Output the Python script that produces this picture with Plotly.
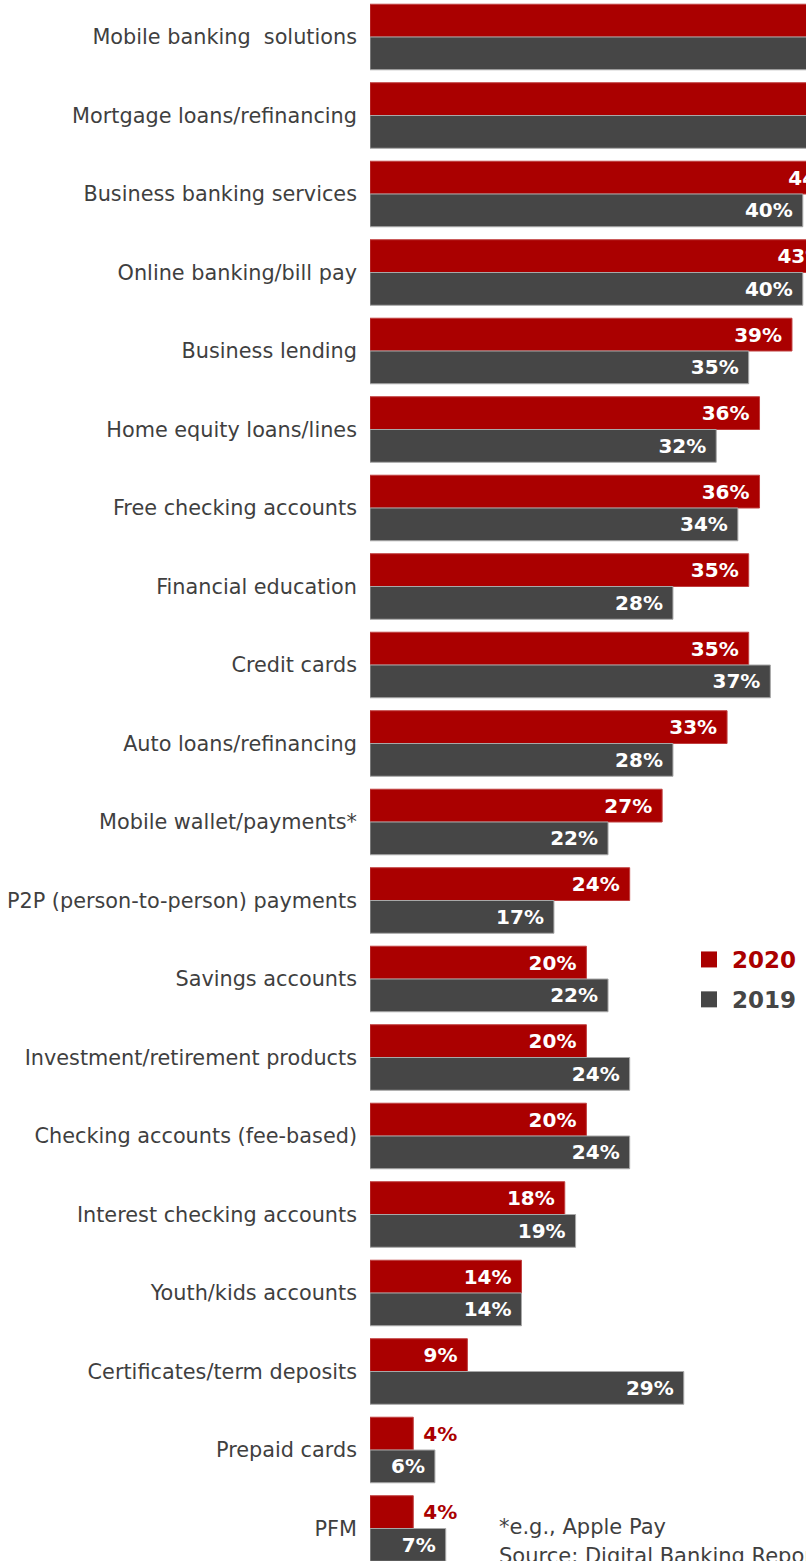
import plotly.graph_objects as go

categories = [
    "Mobile banking  solutions", "Mortgage loans/refinancing", "Business banking services",
    "Online banking/bill pay", "Business lending", "Home equity loans/lines",
    "Free checking accounts", "Financial education", "Credit cards",
    "Auto loans/refinancing", "Mobile wallet/payments*", "P2P (person-to-person) payments",
    "Savings accounts", "Investment/retirement products", "Checking accounts (fee-based)",
    "Interest checking accounts", "Youth/kids accounts", "Certificates/term deposits",
    "Prepaid cards", "PFM",
]
values_2020 = [60, 52, 44, 43, 39, 36, 36, 35, 35, 33, 27, 24, 20, 20, 20, 18, 14, 9, 4, 4]
values_2019 = [55, 48, 40, 40, 35, 32, 34, 28, 37, 28, 22, 17, 22, 24, 24, 19, 14, 29, 6, 7]
series_names = ["2020", "2019"]

RED = "#aa0000"
GRAY = "#464646"
TXT = "#3f3f3f"
FONT = "DejaVu Sans"

W, H = 806, 1561
PLOT_LEFT = 370
PLOT_W = W - PLOT_LEFT
ROW = 78.5
FIRST = 37


def positions(vals):
    return ["outside" if v < 5 else "inside" for v in vals]


fig = go.Figure()
fig.add_trace(go.Bar(
    y=categories, x=values_2020, orientation="h", name=series_names[0], showlegend=False,
    marker=dict(color=RED, line=dict(color="#c04040", width=1)),
    text=[f"{v}%\u00a0" if v >= 5 else f"\u00a0{v}%" for v in values_2020],
    textposition=positions(values_2020), insidetextanchor="end",
    insidetextfont=dict(color="white", size=20, family=FONT, weight="bold"),
    outsidetextfont=dict(color=RED, size=20, family=FONT, weight="bold"),
    cliponaxis=True,
))
fig.add_trace(go.Bar(
    y=categories, x=values_2019, orientation="h", name=series_names[1], showlegend=False,
    marker=dict(color=GRAY, line=dict(color="#a8a8a8", width=1)),
    text=[f"{v}%\u00a0" for v in values_2019],
    textposition="inside", insidetextanchor="end",
    insidetextfont=dict(color="white", size=20, family=FONT, weight="bold"),
    cliponaxis=True,
))
# legend entries
for nm, col, grp in [(series_names[0], RED, "a"), (series_names[1], GRAY, "b")]:
    fig.add_trace(go.Scatter(
        x=[None], y=[None], mode="markers", legendgroup=grp,
        name="<span style='color:%s'><b>%s</b></span>" % (col, nm),
        marker=dict(symbol="square", size=22, color=col),
    ))

fig.update_layout(
    width=W, height=H,
    margin=dict(l=PLOT_LEFT, r=0, t=0, b=0),
    barmode="group", bargap=0.165, bargroupgap=0,
    plot_bgcolor="white", paper_bgcolor="white",
    font=dict(family=FONT, color=TXT),
    showlegend=True,
    legend=dict(x=(686 - PLOT_LEFT) / PLOT_W, y=1 - 938 / H, xanchor="left", yanchor="top",
                font=dict(size=23, family=FONT), bgcolor="rgba(0,0,0,0)",
                tracegroupgap=7, itemwidth=36, traceorder="grouped"),
)
fig.update_xaxes(range=[0, PLOT_W / 10.82], visible=False, showgrid=False, zeroline=False)
fig.update_yaxes(type="category", categoryarray=categories,
                 range=[(H - FIRST) / ROW, -FIRST / ROW],
                 showgrid=False, zeroline=False, showline=False, ticks="",
                 tickfont=dict(size=20.8, color=TXT, family=FONT),
                 ticklabelstandoff=12)

fig.add_annotation(xref="paper", yref="paper", x=(497 - PLOT_LEFT) / PLOT_W, y=1 - 1527 / H,
                   xanchor="left", yanchor="middle", showarrow=False, align="left",
                   text="*e.g., Apple Pay", font=dict(size=21, color=TXT, family=FONT))
fig.add_annotation(xref="paper", yref="paper", x=(497 - PLOT_LEFT) / PLOT_W, y=1 - 1556 / H,
                   xanchor="left", yanchor="middle", showarrow=False, align="left",
                   text="Source: Digital Banking Report", font=dict(size=21, color=TXT, family=FONT))

fig.write_html(
    "out.html",
    config={"displayModeBar": False},
    post_script="document.body.style.margin='0';document.documentElement.style.overflow='hidden';",
)
